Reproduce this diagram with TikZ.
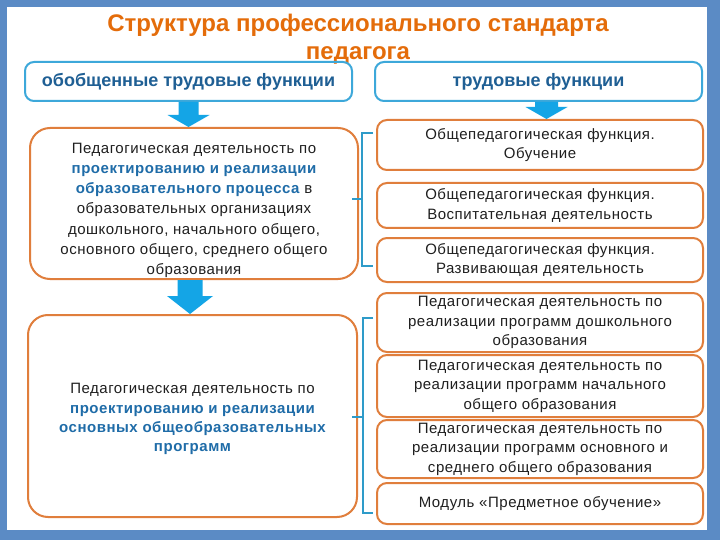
\documentclass[tikz,border=0pt]{standalone}
\usepackage{fontspec}
\setmainfont{Liberation Sans}
\usetikzlibrary{positioning, calc}

\definecolor{framebg}{HTML}{5B8BC5}
\definecolor{titleorange}{HTML}{E46C0A}
\definecolor{boxorange}{HTML}{E07E3C}
\definecolor{hdrblue}{HTML}{3DA8DA}
\definecolor{hdrtext}{HTML}{1F5F94}
\definecolor{arrowblue}{HTML}{14A5E6}
\definecolor{bracecol}{HTML}{2E9BC9}
\definecolor{keyblue}{HTML}{1F6CA8}

\newcommand{\keytext}[1]{{\bfseries\color{keyblue}#1}}
\newcommand{\boxfont}[1]{\fontsize{15}{#1}\selectfont\addfontfeatures{LetterSpace=3.5}}

\begin{document}
\begin{tikzpicture}[x=1pt, y=-1pt,
    title/.style={font=\fontsize{24}{28}\selectfont\bfseries, text=titleorange, align=center, inner sep=0pt},
    header/.style={rectangle, draw=hdrblue, line width=2pt, rounded corners=9pt, minimum width=327pt, minimum height=39pt, font=\fontsize{18}{20}\selectfont\bfseries, text=hdrtext},
    bigbox/.style={rectangle, draw=boxorange, line width=2pt, rounded corners=20pt, minimum width=328pt, align=center, inner ysep=0pt, text=black!88},
    funcbox/.style={rectangle, draw=boxorange, line width=2pt, rounded corners=10pt, minimum width=326pt, align=center, inner sep=2pt, text=black!88, font=\boxfont{19.5}},
    brace/.style={draw=bracecol, line width=1.5pt},
    bigarrow/.style={fill=arrowblue}
]
    % Frame
    \fill[framebg] (0,0) rectangle (720,540);
    \fill[white] (7,7) rectangle (707,530);

    % Title and headers
    \node[title] (title) at (358,39) {Структура профессионального стандарта\\педагога};
    \node[header] (hdrL) at (188.5,81.5) {обобщенные трудовые функции};
    \node[header] (hdrR) at (538.5,81.5) {трудовые функции};

    % Generalised functions
    \node[bigbox, minimum height=151pt, font=\boxfont{20.2}] (box1) at (194,203.5) {\rule{0pt}{24pt}Педагогическая деятельность по\\
        \keytext{проектированию и реализации}\\
        \keytext{образовательного процесса} в\\
        образовательных организациях\\
        дошкольного, начального общего,\\
        основного общего, среднего общего\\
        образования};
    \node[bigbox, minimum height=202pt, minimum width=329pt, font=\boxfont{19.3}] (box2) at (192.5,416) {\rule{0pt}{17pt}Педагогическая деятельность по\\
        \keytext{проектированию и реализации}\\
        \keytext{основных общеобразовательных}\\
        \keytext{программ}};

    % Labour functions
    \node[funcbox, minimum height=50pt] (r1) at (540,145) {Общепедагогическая функция.\\Обучение};
    \node[funcbox, minimum height=45pt] (r2) at (540,205.5) {Общепедагогическая функция.\\Воспитательная деятельность};
    \node[funcbox, minimum height=44pt] (r3) at (540,260) {Общепедагогическая функция.\\Развивающая деятельность};
    \node[funcbox, minimum height=59pt] (r4) at (540,322.5) {Педагогическая деятельность по\\реализации программ дошкольного\\образования};
    \node[funcbox, minimum height=62pt] (r5) at (540,386) {Педагогическая деятельность по\\реализации программ начального\\общего образования};
    \node[funcbox, minimum height=58pt] (r6) at (540,449) {Педагогическая деятельность по\\реализации программ основного и\\среднего общего образования};
    \node[funcbox, minimum height=41pt] (r7) at (540,503.5) {Модуль «Предметное обучение»};

    % Block arrows
    \fill[bigarrow] ($(hdrL.south)+(-10,0)$) |- ($(hdrL.south |- box1.north)+(-21,-12)$) -- (hdrL.south |- box1.north)
        -- ($(hdrL.south |- box1.north)+(21,-12)$) -| ($(hdrL.south)+(10,0)$) -- cycle;
    \fill[bigarrow] ($(box1.south)+(-16.5,0)$) |- ($(box1.south |- box2.north)+(-27,-18)$) -- ($(box1.south |- box2.north)+(-4,0)$)
        -- ($(box1.south |- box2.north)+(19,-18)$) -| ($(box1.south)+(8.5,0)$) -- cycle;
    \fill[bigarrow] ($(hdrR.south)+(-3.5,0)$) |- ($(hdrR.south |- r1.north)+(-13,-12)$) -- ($(hdrR.south |- r1.north)+(8,0)$)
        -- ($(hdrR.south |- r1.north)+(29,-12)$) -| ($(hdrR.south)+(19.5,0)$) -- cycle;

    % Braces
    \coordinate (braceA) at (373,133);
    \coordinate (braceAmid) at (362,199);
    \coordinate (braceB) at (373,318);
    \coordinate (braceBmid) at (363,417);
    \draw[brace] (braceA) -- ++(-11,0) -- ++(0,133) -- ++(11,0);
    \draw[brace] (braceAmid) -- ++(-10,0);
    \draw[brace] (braceB) -- ++(-10,0) -- ++(0,195) -- ++(10,0);
    \draw[brace] (braceBmid) -- ++(-11,0);
\end{tikzpicture}
\end{document}
